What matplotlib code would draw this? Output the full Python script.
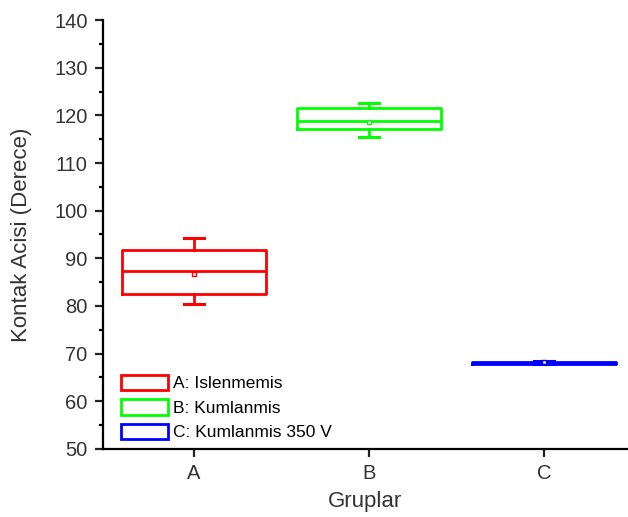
import matplotlib.pyplot as plt
from matplotlib.patches import Patch

groups = ["A", "B", "C"]
labels = ["A: Islenmemis", "B: Kumlanmis", "C: Kumlanmis 350 V"]
colors = ["#ff0000", "#00ff00", "#0000ff"]
q1 = [82.4, 117.2, 67.9]
med = [87.4, 118.8, 68.1]
q3 = [91.7, 121.6, 68.2]
whislo = [80.3, 115.5, 67.9]
whishi = [94.2, 122.7, 68.4]
mean = [86.8, 118.6, 68.2]

plt.rcParams['font.family'] = ['Liberation Sans', 'DejaVu Sans']

fig = plt.figure(figsize=(6.28, 5.17), dpi=100)
ax = fig.add_axes([0.164, 0.132, 0.836, 0.829])

for i in range(3):
    st = dict(med=med[i], q1=q1[i], q3=q3[i], whislo=whislo[i], whishi=whishi[i],
              mean=mean[i], fliers=[], label=groups[i])
    c = colors[i]
    ax.bxp([st], positions=[i + 1], widths=0.82, showmeans=True,
           boxprops=dict(color=c, linewidth=2),
           medianprops=dict(color=c, linewidth=2),
           whiskerprops=dict(color=c, linewidth=2),
           capprops=dict(color=c, linewidth=2.2),
           meanprops=dict(marker='s', markersize=3, markerfacecolor='white',
                          markeredgecolor=c, markeredgewidth=1),
           capwidths=0.115)

ax.set_xlim(0.48, 3.48)
ax.set_ylim(50, 140)
ax.set_yticks(range(50, 141, 10))
ax.set_yticks(range(55, 140, 10), minor=True)
ax.set_xticks([1, 2, 3])
ax.set_xticklabels(groups)
for s in ['top', 'right']:
    ax.spines[s].set_visible(False)
for s in ['left', 'bottom']:
    ax.spines[s].set_linewidth(1.6)
ax.tick_params(axis='both', which='major', direction='out', length=6, width=1.6,
               labelsize=14.5, colors='#222222', labelcolor='#333333', pad=5)
ax.tick_params(axis='y', which='minor', direction='out', length=3, width=1.6)
ax.set_xlabel("Gruplar", fontsize=16, color='#333333', labelpad=6)
ax.set_ylabel("Kontak Acisi (Derece)", fontsize=16, color='#333333', labelpad=16)

handles = [Patch(facecolor='white', edgecolor=c, linewidth=2) for c in colors]
ax.legend(handles, labels, loc='lower left', bbox_to_anchor=(0.015, -0.005),
          frameon=False, fontsize=12.5, handlelength=2.7, handleheight=1.0,
          handletextpad=0.3, labelspacing=0.45, borderaxespad=0.2)

fig.savefig("out.png", dpi=100)
